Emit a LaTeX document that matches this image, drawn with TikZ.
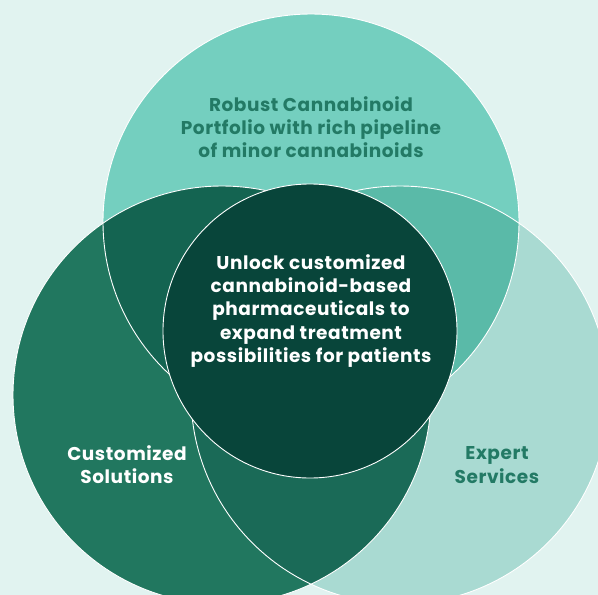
\documentclass[tikz,border=0pt]{standalone}
\usepackage{fontspec}
\setmainfont{Poppins}[LetterSpace=3]
\definecolor{bgc}{HTML}{E1F3F0}
\definecolor{topc}{HTML}{74CFBF}
\definecolor{leftc}{HTML}{21775F}
\definecolor{rightc}{HTML}{A9DAD2}
\definecolor{tlc}{HTML}{146451}
\definecolor{trc}{HTML}{5ABAA8}
\definecolor{lrc}{HTML}{1A6A57}
\definecolor{cenc}{HTML}{08453A}
\definecolor{txtc}{HTML}{237A65}
\tikzset{
  ring/.style={draw=white, line width=0.9pt},
  lbl/.style={align=center, font=\bfseries\fontsize{18.5}{23.3}\selectfont, inner sep=0pt},
}
\begin{document}
\begin{tikzpicture}[x=1pt,y=-1pt]
\useasboundingbox (0,0) rectangle (598,595);
\clip (0,0) rectangle (598,595);
\fill[bgc] (0,0) rectangle (598,595);
\coordinate (T) at (311,222);
\coordinate (L) at (222,395);
\coordinate (R) at (400,395);
\coordinate (C) at (310,331);
\fill[topc] (T) circle (208pt);
\fill[leftc] (L) circle (209pt);
\fill[rightc] (R) circle (209pt);
\begin{scope}\clip (T) circle (208pt); \fill[tlc] (L) circle (209pt); \end{scope}
\begin{scope}\clip (T) circle (208pt); \fill[trc] (R) circle (209pt); \end{scope}
\begin{scope}\clip (L) circle (209pt); \fill[lrc] (R) circle (209pt); \end{scope}
\draw[ring] (T) circle (208pt);
\draw[ring] (L) circle (209pt);
\draw[ring] (R) circle (209pt);
\fill[cenc] (C) circle (147pt);
\draw[ring] (C) circle (147pt);
\node[lbl, text=txtc] (toptext) at (311,127) {Robust Cannabinoid\\Portfolio with rich pipeline\\of minor cannabinoids};
\node[lbl, text=white] (centext) at (311,311) {Unlock customized\\cannabinoid-based\\pharmaceuticals to\\expand treatment\\possibilities for patients};
\node[lbl, text=white] (lefttext) at (127,465) {Customized\\Solutions};
\node[lbl, text=txtc] (righttext) at (497,465) {Expert\\Services};
\end{tikzpicture}
\end{document}
